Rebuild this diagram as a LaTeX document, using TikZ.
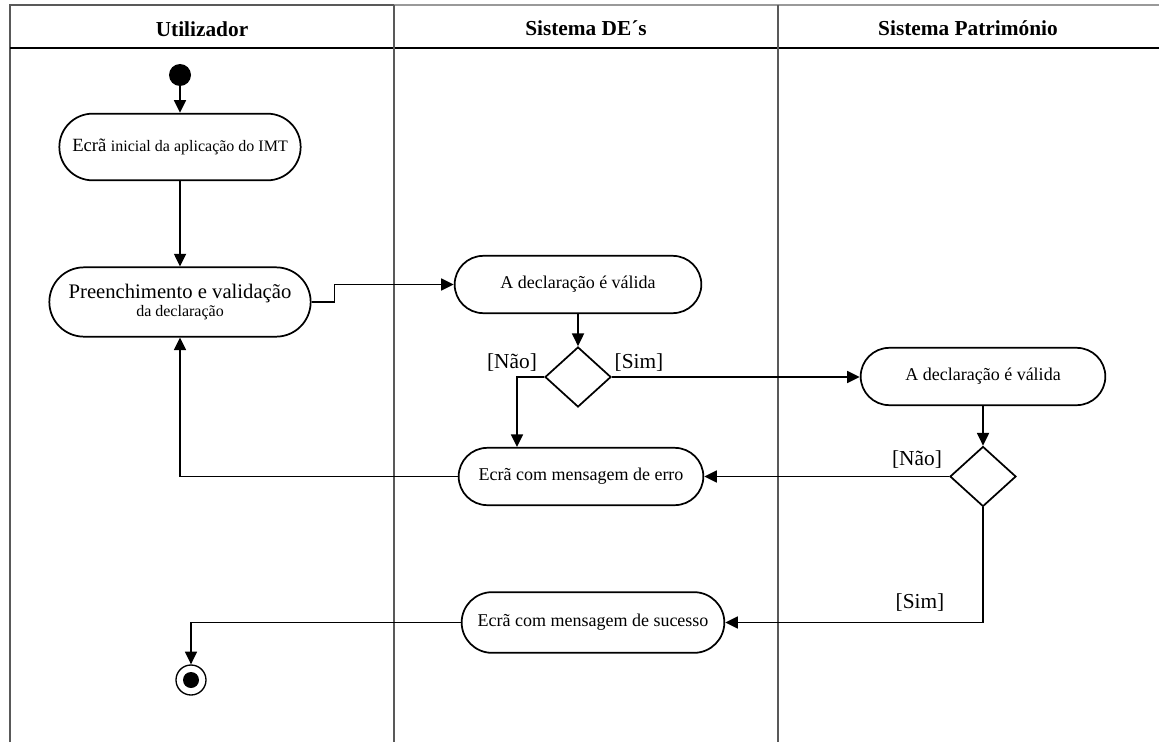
\documentclass[tikz,border=0pt]{standalone}
\usepackage{fontspec}
\setmainfont{Liberation Serif}
\usetikzlibrary{arrows.meta,shapes.geometric,shapes.misc}

\tikzset{
  raia/.style={black!65, line width=0.8pt},
  titulo/.style={font=\bfseries\fontsize{16}{19}\selectfont},
  acao/.style={draw, rounded rectangle, line width=1.3pt, fill=white, inner sep=2pt, align=center, font=\fontsize{13.5}{16}\selectfont},
  decisao/.style={draw, diamond, line width=1.3pt, inner sep=0pt, minimum width=49.5pt, minimum height=45pt},
  guarda/.style={font=\fontsize{16}{19}\selectfont},
  seta/.style={line width=1.3pt, -{Triangle[length=9.5pt, width=9pt]}},
}

\begin{document}
\begin{tikzpicture}[x=0.75pt,y=-0.75pt]
\useasboundingbox (0,0) rectangle (1159,742);
% lanes
\draw[raia] (10,742) -- (10,5) -- (394,5);
\draw[black!40, line width=0.8pt] (394,5) -- (1159,5);
\draw[black, line width=0.9pt] (10,48) -- (1159,48);
\draw[raia] (394,5) -- (394,742);
\draw[raia] (778,5) -- (778,742);
\node[titulo] (hUtil) at (202,29) {Utilizador};
\node[titulo] (hDes) at (586,28) {Sistema DE´s};
\node[titulo] (hPat) at (968,28) {Sistema Património};

% activities
\node[fill=black, circle, inner sep=0pt, minimum size=16.5pt] (inicio) at (180,75) {};
\node[acao, minimum width=185pt, minimum height=50pt] (ecra) at (180,147)
  {{\fontsize{14}{16}\selectfont Ecrã} {\fontsize{12}{14}\selectfont inicial da aplicação do IMT}};
\node[acao, minimum width=200pt, minimum height=52pt, font=\fontsize{15.5}{15}\selectfont] (preench) at (180,302)
  {Preenchimento e validação\\[-2pt]{\fontsize{12}{14}\selectfont da declaração}};
\node[acao, minimum width=189pt, minimum height=43pt] (valida1) at (578,284.5) {A declaração é válida};
\node[decisao] (dec1) at (578,377) {};
\node[acao, minimum width=187.5pt, minimum height=43pt] (valida2) at (983,376.5) {A declaração é válida};
\node[decisao] (dec2) at (983,476.5) {};
\node[acao, minimum width=187.5pt, minimum height=43pt] (erro) at (581,476.5) {Ecrã com mensagem de erro};
\node[acao, minimum width=201pt, minimum height=45.5pt] (sucesso) at (593,622.5) {Ecrã com mensagem de sucesso};
\node[draw, circle, line width=1pt, inner sep=0pt, minimum size=22.5pt] (fim) at (191,680) {};
\fill (fim.center) circle (6pt);

% guards
\node[guarda] (gNao1) at (512,363) {[Não]};
\node[guarda] (gSim1) at (639,363) {[Sim]};
\node[guarda] (gNao2) at (917,460) {[Não]};
\node[guarda] (gSim2) at (920,603) {[Sim]};

% flows
\draw[seta] (inicio) -- (ecra);
\draw[seta] (ecra) -- (preench);
\draw[seta] (preench.east) -- ++(23,0) |- (valida1.west);
\draw[seta] (valida1) -- (dec1);
\draw[seta] (dec1.west) -| ([xshift=-48pt]erro.north);
\draw[seta] (dec1.east) -- (dec1.east -| valida2.west);
\draw[seta] (valida2) -- (dec2);
\draw[seta] (dec2.west) -- (erro.east);
\draw[seta] (dec2.south) |- (sucesso.east);
\draw[seta] (erro.west) -| (preench.south);
\draw[seta] (sucesso.west) -| (fim.north);
\end{tikzpicture}
\end{document}
